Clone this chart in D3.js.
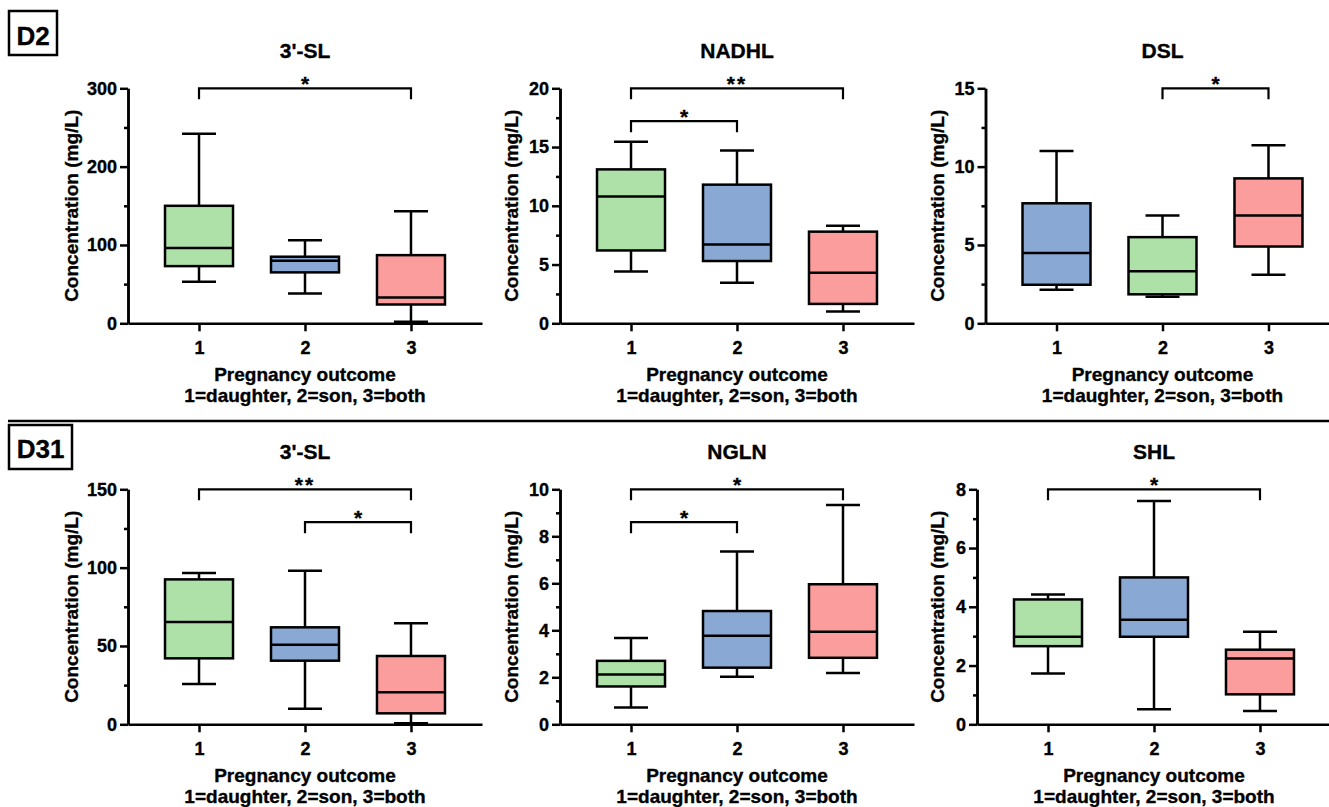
<!DOCTYPE html>
<html>
<head>
<meta charset="utf-8">
<script src="https://cdn.jsdelivr.net/npm/d3@7"></script>
<style>
  body { margin: 0; background: #fff; }
  svg text { font-family: "Liberation Sans", Arial, sans-serif; font-weight: bold; fill: #000;
             stroke: #000; stroke-width: 0.35px; }
  .axis path, .axis line { stroke: #000; stroke-width: 2.5; }
  .axis text { font-size: 18px; }
</style>
</head>
<body>
<div id="chart"></div>
<script>
// ---- data ----
const groups = [1, 2, 3];
const titles = ["3'-SL", "NADHL", "DSL", "3'-SL", "NGLN", "SHL"];
const rowLabels = ["D2", "D31"];
const xTitle1 = "Pregnancy outcome";
const xTitle2 = "1=daughter, 2=son, 3=both";
const yTitle = "Concentration (mg/L)";

const yMaxes = [300, 20, 15, 150, 10, 8];
const yTicks = [[0, 100, 200, 300], [0, 5, 10, 15, 20], [0, 5, 10, 15],
                [0, 50, 100, 150], [0, 2, 4, 6, 8, 10], [0, 2, 4, 6, 8]];
const yMinorTicks = [[50, 150, 250], [2.5, 7.5, 12.5, 17.5], [2.5, 7.5, 12.5],
                     [25, 75, 125], [1, 3, 5, 7, 9], [1, 3, 5, 7]];

// [min, q1, median, q3, max] per group
const statsD2_3SL   = [[53, 73, 96, 150, 242], [38, 65, 80, 85, 106], [2, 24, 33, 87, 143]];
const statsD2_NADHL = [[4.4, 6.2, 10.8, 13.1, 15.45], [3.45, 5.3, 6.7, 11.8, 14.7], [1.0, 1.65, 4.3, 7.8, 8.3]];
const statsD2_DSL   = [[2.14, 2.46, 4.48, 7.66, 11.0], [1.7, 1.85, 3.33, 5.5, 6.88], [3.1, 4.9, 6.88, 9.25, 11.36]];
const statsD31_3SL  = [[25.7, 42.1, 65.3, 92.5, 96.6], [10, 40.6, 50.8, 61.9, 98], [0.6, 7.0, 20.4, 43.6, 64.5]];
const statsD31_NGLN = [[0.72, 1.61, 2.12, 2.7, 3.67], [2.02, 2.41, 3.77, 4.82, 7.35], [2.18, 2.83, 3.94, 5.96, 9.33]];
const statsD31_SHL  = [[1.73, 2.66, 2.98, 4.25, 4.42], [0.51, 2.98, 3.56, 5.0, 7.6], [0.45, 1.02, 2.24, 2.54, 3.15]];
const allStats = [statsD2_3SL, statsD2_NADHL, statsD2_DSL, statsD31_3SL, statsD31_NGLN, statsD31_SHL];

// [from group, to group, bracket value, label]
const sigD2_3SL   = [[1, 3, 300, "*"]];
const sigD2_NADHL = [[1, 3, 20, "**"], [1, 2, 17.2, "*"]];
const sigD2_DSL   = [[2, 3, 15, "*"]];
const sigD31_3SL  = [[1, 3, 150, "**"], [2, 3, 129, "*"]];
const sigD31_NGLN = [[1, 3, 10, "*"], [1, 2, 8.6, "*"]];
const sigD31_SHL  = [[1, 3, 8, "*"]];
const allSig = [sigD2_3SL, sigD2_NADHL, sigD2_DSL, sigD31_3SL, sigD31_NGLN, sigD31_SHL];

const green = "#ade1a8", blue = "#89a9d4", red = "#fc9d9d";
const boxColors = [[green, blue, red], [green, blue, red], [blue, green, red],
                   [green, blue, red], [green, blue, red], [green, blue, red]];

// ---- layout ----
const W = 1329, H = 807;
const axisX = [128, 560, 985.5, 128, 560, 977];
const yTitleX = [78, 518, 944, 78, 518, 944];
const rowBottom = [323.3, 724.3];
const plotH = 235;
const xLen = 354;
const boxHalf = 34, capHalf = 17;

const svg = d3.select("#chart").append("svg")
    .attr("width", W).attr("height", H);

// row labels + separator
const labelBoxes = [{x: 9, y: 11, w: 48, h: 44, ty: 45}, {x: 9, y: 425, w: 63, h: 44, ty: 458}];
labelBoxes.forEach((b, i) => {
    svg.append("rect").attr("x", b.x).attr("y", b.y).attr("width", b.w).attr("height", b.h)
        .attr("fill", "none").attr("stroke", "#000").attr("stroke-width", 2.5);
    svg.append("text").attr("x", b.x + b.w / 2).attr("y", b.ty)
        .attr("text-anchor", "middle").style("font-size", "26px").text(rowLabels[i]);
});
svg.append("line").attr("x1", 8).attr("x2", W).attr("y1", 421).attr("y2", 421)
    .attr("stroke", "#000").attr("stroke-width", 2.5);

allStats.forEach((stats, p) => {
    const row = p < 3 ? 0 : 1;
    const y0 = rowBottom[row];
    const g = svg.append("g");

    const x = d3.scaleLinear().domain([0.33, 3.67]).range([axisX[p], axisX[p] + xLen]);
    const y = d3.scaleLinear().domain([0, yMaxes[p]]).range([y0, y0 - plotH]);

    // axes
    g.append("g").attr("class", "axis")
        .attr("transform", "translate(" + axisX[p] + ",0)")
        .call(d3.axisLeft(y).tickValues(yMinorTicks[p]).tickFormat("").tickSize(4).tickSizeOuter(0));
    g.append("g").attr("class", "axis")
        .attr("transform", "translate(" + axisX[p] + ",0)")
        .call(d3.axisLeft(y).tickValues(yTicks[p]).tickSize(8).tickPadding(3).tickSizeOuter(0));
    g.append("g").attr("class", "axis")
        .attr("transform", "translate(0," + y0 + ")")
        .call(d3.axisBottom(x).tickValues(groups).tickFormat(d3.format("d")).tickSize(8).tickPadding(10).tickSizeOuter(0));

    // whiskers
    stats.forEach((s, i) => {
        const cx = x(groups[i]);
        g.append("line").attr("x1", cx).attr("x2", cx).attr("y1", y(s[0])).attr("y2", y(s[4]))
            .attr("stroke", "#000").attr("stroke-width", 2.5);
        [s[0], s[4]].forEach(v => {
            g.append("line").attr("x1", cx - capHalf).attr("x2", cx + capHalf)
                .attr("y1", y(v)).attr("y2", y(v))
                .attr("stroke", "#000").attr("stroke-width", 2.5);
        });
    });

    // boxes
    g.selectAll("rect.box").data(stats).enter().append("rect")
        .attr("class", "box")
        .attr("x", (d, i) => x(groups[i]) - boxHalf)
        .attr("width", boxHalf * 2)
        .attr("y", d => y(d[3]))
        .attr("height", d => y(d[1]) - y(d[3]))
        .attr("fill", (d, i) => boxColors[p][i])
        .attr("stroke", "#000").attr("stroke-width", 2.5);
    g.selectAll("line.median").data(stats).enter().append("line")
        .attr("class", "median")
        .attr("x1", (d, i) => x(groups[i]) - boxHalf)
        .attr("x2", (d, i) => x(groups[i]) + boxHalf)
        .attr("y1", d => y(d[2])).attr("y2", d => y(d[2]))
        .attr("stroke", "#000").attr("stroke-width", 2.5);

    // significance brackets
    allSig[p].forEach(s => {
        const by = y(s[2]);
        g.append("path")
            .attr("d", "M" + x(s[0]) + "," + (by + 11) + "V" + by + "H" + x(s[1]) + "V" + (by + 11))
            .attr("fill", "none").attr("stroke", "#000").attr("stroke-width", 2.2);
        g.append("text").attr("x", (x(s[0]) + x(s[1])) / 2).attr("y", by + 3)
            .attr("text-anchor", "middle").style("font-size", "21px")
            .style("letter-spacing", s[3].length > 1 ? "2px" : "0px")
            .text(s[3]);
    });

    // titles
    g.append("text").attr("x", x(2)).attr("y", y0 - plotH - 30)
        .attr("text-anchor", "middle").style("font-size", "21px").text(titles[p]);
    g.append("text").attr("x", x(2)).attr("y", y0 + 58)
        .attr("text-anchor", "middle").style("font-size", "19px").text(xTitle1);
    g.append("text").attr("x", x(2)).attr("y", y0 + 79)
        .attr("text-anchor", "middle").style("font-size", "19px").text(xTitle2);
    g.append("text")
        .attr("transform", "translate(" + yTitleX[p] + "," + (y0 - plotH / 2) + ") rotate(-90)")
        .attr("text-anchor", "middle").style("font-size", "19px").text(yTitle);
});
</script>
</body>
</html>
